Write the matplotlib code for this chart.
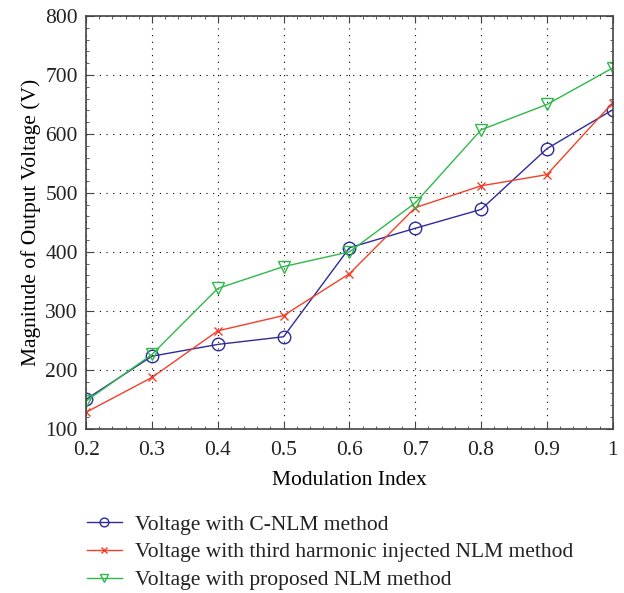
import numpy as np
import matplotlib
matplotlib.use('Agg')
from matplotlib import pyplot as plt
from matplotlib.ticker import MultipleLocator

modulation_index = [0.2, 0.3, 0.4, 0.5, 0.6, 0.7, 0.8, 0.9, 1.0]
c_nlm = [150, 223, 243, 256, 407, 440, 472, 575, 641]
third_harmonic = [128, 187, 266, 292, 363, 475, 512, 531, 653]
proposed = [147, 226, 338, 375, 400, 483, 607, 650, 712]

labels = ['Voltage with C-NLM method',
          'Voltage with third harmonic injected NLM method',
          'Voltage with proposed NLM method']
x_ticks = [0.2, 0.3, 0.4, 0.5, 0.6, 0.7, 0.8, 0.9, 1.0]
x_ticklabels = ['0.2', '0.3', '0.4', '0.5', '0.6', '0.7', '0.8', '0.9', '1']

plt.rcParams['font.family'] = ['Liberation Serif', 'DejaVu Serif']
plt.rcParams['font.size'] = 15.5
plt.rcParams['text.color'] = '#222222'
plt.rcParams['xtick.labelcolor'] = '#222222'
plt.rcParams['ytick.labelcolor'] = '#222222'

fig = plt.figure(figsize=(6.24, 5.93), dpi=100)
ax = fig.add_axes([0.138, 0.277, 0.844, 0.696])

ax.plot(modulation_index, c_nlm, color='#2e2a9c', marker='o', markersize=9,
        markerfacecolor='none', linewidth=1.0, label=labels[0])
ax.plot(modulation_index, third_harmonic, color='#f2402a', marker='x', markersize=6,
        linewidth=1.0, label=labels[1])
ax.plot(modulation_index, proposed, color='#30b84a', marker='v', markersize=9,
        markerfacecolor='none', linewidth=1.0, label=labels[2])

ax.set_xlim(0.2, 1.0)
ax.set_ylim(100, 800)
ax.set_xticks(x_ticks)
ax.set_xticklabels(x_ticklabels)
ax.yaxis.set_major_locator(MultipleLocator(100))
ax.xaxis.set_minor_locator(MultipleLocator(0.02))
ax.yaxis.set_minor_locator(MultipleLocator(20))
ax.tick_params(which='both', direction='in', top=True, right=True, color='#444444')
ax.tick_params(which='major', length=5, pad=6)
ax.tick_params(axis='x', which='major', pad=9)
ax.tick_params(which='minor', length=2.5)
ax.grid(True, which='major', linestyle=(0, (1, 5)), color='black', linewidth=0.8)
for s in ax.spines.values():
    s.set_color('#444444')
    s.set_linewidth(1.2)

ax.set_xlabel('Modulation Index', labelpad=8)
ax.set_ylabel('Magnitude of Output Voltage (V)', labelpad=3)

fig.legend(loc='upper left', bbox_to_anchor=(0.125, 0.147), frameon=False,
           handlelength=1.65, labelspacing=0.36, handletextpad=0.6,
           markerscale=0.7, borderaxespad=0)

fig.savefig('out.png', dpi=100)
